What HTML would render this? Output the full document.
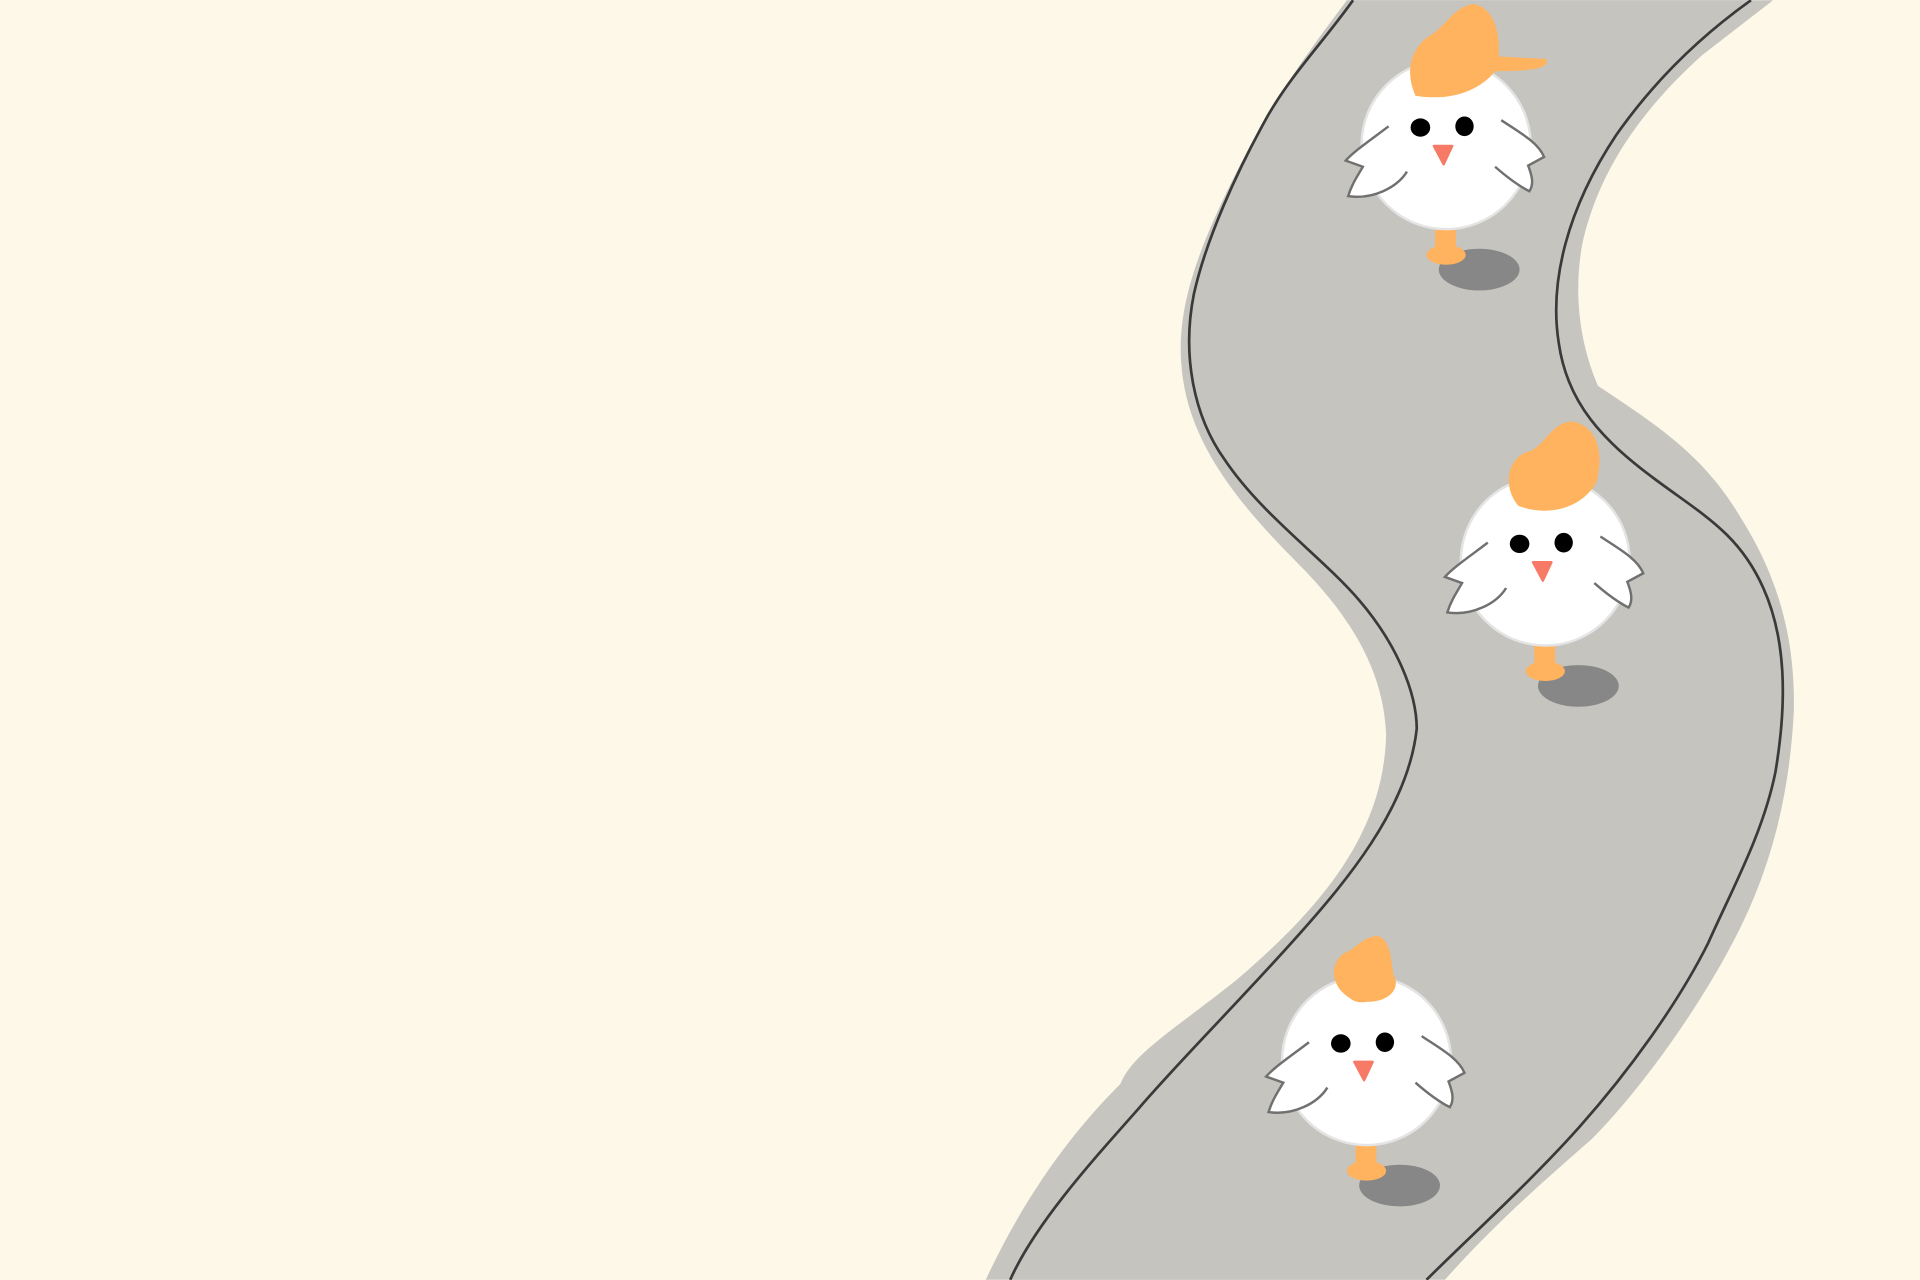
<!DOCTYPE html>
<html><head><meta charset="utf-8"><style>
html,body{margin:0;padding:0;background:#fef8e8;}
svg{display:block;}
</style></head><body>
<svg width="1920" height="1280" viewBox="0 0 1568 1045" xmlns="http://www.w3.org/2000/svg">
<rect x="0" y="0" width="1568" height="1045" fill="#fef8e8"/>
<!-- road shadow -->
<path fill="#c6c5c0" d="M1100,0 C1070,40 1040,80 1010,140 C980,200 960,250 965,300 C970,360 1010,410 1060,460 C1100,500 1130,545 1132,600 C1130,680 1080,740 1010,800 C960,840 925,860 915,885 C880,920 840,970 805,1045 L1180,1045 C1220,1000 1260,965 1300,930 C1340,890 1390,820 1420,760 C1450,700 1462,640 1465,580 C1466,520 1452,470 1420,420 C1390,370 1350,345 1305,315 C1290,280 1285,240 1292,200 C1305,140 1340,90 1390,45 L1448,0 Z"/>
<!-- road -->
<path fill="#c5c4bf" d="M1105,0 C1080,35 1055,60 1035,95 C1010,140 985,195 975,240 C965,290 975,340 1000,375 C1030,420 1080,455 1110,490 C1140,525 1157,565 1157,595 C1150,660 1100,720 1050,775 C1000,830 960,870 930,905 C890,950 845,1000 825,1045 L1165,1045 C1200,1010 1250,965 1290,920 C1330,875 1370,820 1395,770 C1415,725 1440,680 1450,630 C1460,570 1458,520 1440,480 C1420,435 1390,420 1350,390 C1310,360 1280,330 1273,280 C1265,230 1280,170 1320,110 C1355,60 1395,25 1430,0 Z"/>
<path fill="none" stroke="#3a3a3a" stroke-width="2.2" d="M1105,0 C1080,35 1055,60 1035,95 C1010,140 985,195 975,240 C965,290 975,340 1000,375 C1030,420 1080,455 1110,490 C1140,525 1157,565 1157,595 C1150,660 1100,720 1050,775 C1000,830 960,870 930,905 C890,950 845,1000 825,1045"/>
<path fill="none" stroke="#3a3a3a" stroke-width="2.2" d="M1430,0 C1395,25 1355,60 1320,110 C1280,170 1265,230 1273,280 C1280,330 1310,360 1350,390 C1390,420 1420,435 1440,480 C1458,520 1460,570 1450,630 C1440,680 1415,725 1395,770 C1370,820 1330,875 1290,920 C1250,965 1200,1010 1165,1045"/>

<defs>
<g id="chick-body">
  <ellipse cx="27" cy="102" rx="33" ry="17" fill="#878787"/>
  <rect x="-9" y="60" width="17" height="28" rx="3" fill="#ffb35f"/>
  <ellipse cx="0" cy="90" rx="16" ry="8" fill="#ffb35f"/>
  <circle cx="0" cy="0" r="69" fill="#ffffff" stroke="#e4e4e4" stroke-width="2"/>
  <path d="M-47,-15 C-60,-5 -75,5 -82,13 L-68,18 C-72,25 -77,32 -80,42 C-60,45 -40,35 -32,22" fill="#fff" stroke="#707070" stroke-width="2"/>
  <path d="M45,-20 C60,-10 75,-2 80,10 L67,17 C70,25 72,32 68,38 C58,33 48,25 40,18" fill="#fff" stroke="#707070" stroke-width="2"/>
  <ellipse cx="-21" cy="-14" rx="8" ry="7.5" fill="#000"/>
  <ellipse cx="15" cy="-15" rx="7.5" ry="8" fill="#000"/>
  <path d="M-10,1 L5,1 L-2,16 Z" fill="#f67a66" stroke="#f67a66" stroke-width="2" stroke-linejoin="round"/>
</g>
</defs>

<g transform="translate(1181,118)">
  <use href="#chick-body"/>
  <path fill="#ffb35f" d="M-25,-40 C-32,-55 -32,-75 -15,-88 C0,-96 5,-112 22,-115 C38,-112 44,-95 43,-72 L82,-70 C84,-64 78,-60 40,-60 C28,-45 5,-35 -25,-40 Z"/>
</g>
<g transform="translate(1262,458)">
  <use href="#chick-body"/>
  <path fill="#ffb35f" d="M-22,-45 C-35,-60 -32,-85 -12,-90 C0,-95 5,-113 22,-114 C42,-110 48,-90 42,-65 C32,-45 5,-35 -22,-45 Z"/>
</g>
<g transform="translate(1116,866)">
  <use href="#chick-body"/>
  <path fill="#ffb35f" d="M-15,-52 C-30,-62 -30,-80 -18,-88 C-10,-90 -5,-100 8,-102 C20,-100 20,-82 22,-70 C28,-60 20,-48 0,-48 C-6,-47 -10,-48 -15,-52 Z"/>
</g>
</svg>
</body></html>
